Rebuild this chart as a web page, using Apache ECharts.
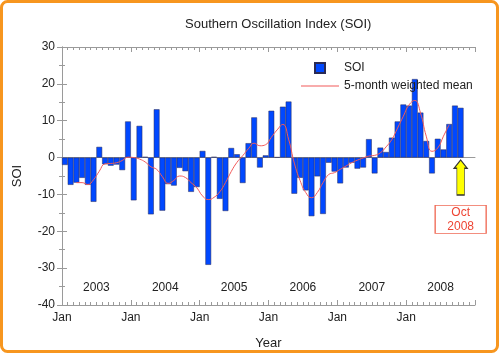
<!DOCTYPE html>
<html>
<head>
<meta charset="utf-8">
<script src="https://cdn.jsdelivr.net/npm/echarts@6/dist/echarts.min.js"></script>
<style>html,body{margin:0;padding:0;background:#fff}#c{width:500px;height:355px}</style>
</head>
<body>
<div id="c"></div>
<script>
const years = ['2003','2004','2005','2006','2007','2008'];
const monthNames = ['Jan','Feb','Mar','Apr','May','Jun','Jul','Aug','Sep','Oct','Nov','Dec'];
const yTicks = [-40, 30, 10];
// monthly SOI Jan 2003 .. Oct 2008
const soi2003 = [-2.0, -7.4, -6.8, -5.5, -7.4, -12.0, 2.9, -1.8, -2.2, -1.9, -3.4, 9.8];
const soi2004 = [-11.6, 8.6, 0.2, -15.4, 13.1, -14.4, -7.2, -7.6, -2.8, -3.7, -9.3, -8.0];
const soi2005 = [1.8, -29.1, 0.2, -11.2, -14.5, 2.6, 0.9, -6.9, 3.9, 10.9, -2.7, 0.6];
const soi2006 = [12.7, 0.1, 13.8, 15.2, -9.8, -5.5, -8.9, -15.9, -5.1, -15.3, -1.4, -3.8];
const soi2007 = [-7.0, -2.7, -1.4, -3.0, -2.7, 5.0, -4.3, 2.7, 1.5, 5.4, 9.8, 14.4];
const soi2008 = [14.1, 21.3, 12.2, 4.5, -4.3, 5.1, 2.2, 9.1, 14.1, 13.5, null, null];
// 5-month weighted mean (Mar 2003 .. Aug 2008)
const mean2003 = [null, null, -6.8, -6.8, -7.3, -6.0, -3.7, -1.7, -1.6, -1.4, -0.8, 0.1];
const mean2004 = [0.0, -0.4, -1.2, -2.5, -3.2, -5.2, -7.0, -6.2, -5.0, -5.4, -6.8, -8.2];
const mean2005 = [-10.4, -11.4, -10.8, -9.3, -6.8, -3.8, -1.3, 0.5, 2.4, 3.9, 3.2, 3.5];
const mean2006 = [5.5, 7.5, 9.0, 5.0, -1.5, -6.2, -9.5, -10.9, -9.5, -6.8, -4.6, -4.1];
const mean2007 = [-3.2, -2.3, -1.4, -0.7, -0.1, 0.4, 0.6, 1.3, 2.9, 4.9, 8.0, 11.2];
const mean2008 = [14.3, 15.5, 12.1, 5.8, 1.7, 2.6, 5.8, 8.9, null, null, null, null];
const latestMonth = 'Oct 2008';
const arrowCenter = -5.4;
const boxCenter = -16.8;

const categories = [];
years.forEach(y => monthNames.forEach(m => categories.push(m + ' ' + y)));
const soi = [].concat(soi2003, soi2004, soi2005, soi2006, soi2007, soi2008);
const mean = [].concat(mean2003, mean2004, mean2005, mean2006, mean2007, mean2008);

const font = "'Liberation Sans', Arial, Helvetica, sans-serif";
const axisGray = '#9a9a9a';
const arrowPath = 'path://M6,0 L12,8 L9.5,8 L9.5,34 L2.5,34 L2.5,8 L0,8 Z';

const chart = echarts.init(document.getElementById('c'), null, {renderer: 'canvas'});
chart.setOption({
  animation: false,
  textStyle: {fontFamily: font},
  title: {
    text: 'Southern Oscillation Index (SOI)',
    left: 180, top: 13,
    textStyle: {fontSize: 13, fontWeight: 'normal', color: '#222', fontFamily: font}
  },
  graphic: [{
    type: 'rect', silent: true, z: 100,
    shape: {x: 1.5, y: 1.5, width: 496, height: 350, r: 6},
    style: {fill: 'none', stroke: '#f7961f', lineWidth: 3}
  }],
  legend: {
    orient: 'vertical', left: 296, top: 57,
    itemWidth: 38, itemHeight: 10, itemGap: 6,
    symbolKeepAspect: true,
    textStyle: {fontSize: 12, color: '#222', fontFamily: font},
    data: [
      {name: 'SOI', icon: 'path://M0,0H10V10H0Z'},
      {name: '5-month weighted mean', icon: 'path://M0,0H38V1.1H0Z',
       itemStyle: {color: '#f25a5a', borderWidth: 0}}
    ]
  },
  grid: {left: 62, right: 25, top: 47, bottom: 48},
  xAxis: [{
    type: 'category', data: categories, boundaryGap: true,
    axisLine: {onZero: true, lineStyle: {color: axisGray, width: 1}},
    axisTick: {show: false}, axisLabel: {show: false}, splitLine: {show: false}
  }, {
    type: 'value', position: 'bottom', min: 0, max: 72, interval: 12,
    name: 'Year', nameLocation: 'middle', nameGap: 32,
    nameTextStyle: {fontSize: 13, color: '#222', fontFamily: font},
    axisLine: {onZero: false, lineStyle: {color: axisGray}},
    axisTick: {inside: true, length: 5, lineStyle: {color: axisGray}},
    minorTick: {show: true, splitNumber: 12, length: 3, lineStyle: {color: axisGray}},
    axisLabel: {margin: 7, fontSize: 12, color: '#222', formatter: v => v < 72 ? 'Jan' : ''},
    splitLine: {show: false}
  }, {
    type: 'value', position: 'top', min: 0, max: 72, interval: 12,
    axisLine: {onZero: false, lineStyle: {color: axisGray}},
    axisTick: {inside: true, length: 5, lineStyle: {color: axisGray}},
    minorTick: {show: true, splitNumber: 12, length: 3, lineStyle: {color: axisGray}},
    axisLabel: {show: false}, splitLine: {show: false}
  }, {
    type: 'category', position: 'bottom', data: years, boundaryGap: true,
    axisLine: {show: false, onZero: false}, axisTick: {show: false},
    axisLabel: {inside: true, margin: 11, fontSize: 12, color: '#222'},
    splitLine: {show: false}
  }],
  yAxis: [{
    type: 'value', position: 'left', min: yTicks[0], max: yTicks[1], interval: yTicks[2],
    name: 'SOI', nameLocation: 'middle', nameGap: 38, nameRotate: 90,
    nameTextStyle: {fontSize: 13, color: '#222', fontFamily: font},
    axisLine: {show: true, lineStyle: {color: axisGray}},
    axisTick: {show: true, inside: true, length: 5, lineStyle: {color: axisGray}},
    minorTick: {show: true, splitNumber: 2, length: 3, lineStyle: {color: axisGray}},
    axisLabel: {margin: 7, fontSize: 12, color: '#222'},
    splitLine: {show: false}
  }, {
    type: 'value', position: 'right', min: yTicks[0], max: yTicks[1], interval: yTicks[2],
    axisLine: {show: true, lineStyle: {color: axisGray}},
    axisTick: {show: true, inside: true, length: 5, lineStyle: {color: axisGray}},
    minorTick: {show: true, splitNumber: 2, length: 3, lineStyle: {color: axisGray}},
    axisLabel: {show: false}, splitLine: {show: false}
  }],
  series: [{
    name: 'SOI', type: 'bar', xAxisIndex: 0, yAxisIndex: 0,
    data: soi, barWidth: '100%', barGap: '0%',
    itemStyle: {color: '#0048ff', borderColor: '#2a2a55', borderWidth: 0.5},
    markPoint: {
      silent: true,
      data: [{
        coord: [latestMonth, arrowCenter], symbol: arrowPath, symbolSize: [13, 35],
        itemStyle: {color: '#ffff00', borderColor: '#333', borderWidth: 1},
        label: {show: false}
      }, {
        coord: [latestMonth, boxCenter], symbol: 'rect', symbolSize: [51, 28],
        itemStyle: {color: '#ffffff', borderColor: '#f06a55', borderWidth: 1},
        label: {show: true, position: 'inside', formatter: 'Oct\n2008', color: '#ee4433',
                fontSize: 12, lineHeight: 14, fontFamily: font}
      }]
    }
  }, {
    name: '5-month weighted mean', type: 'line', xAxisIndex: 0, yAxisIndex: 0,
    data: mean, smooth: true, symbol: 'none', connectNulls: false,
    lineStyle: {color: '#f25a5a', width: 1}, itemStyle: {color: '#f25a5a'}, z: 3
  }]
});
</script>
</body>
</html>
